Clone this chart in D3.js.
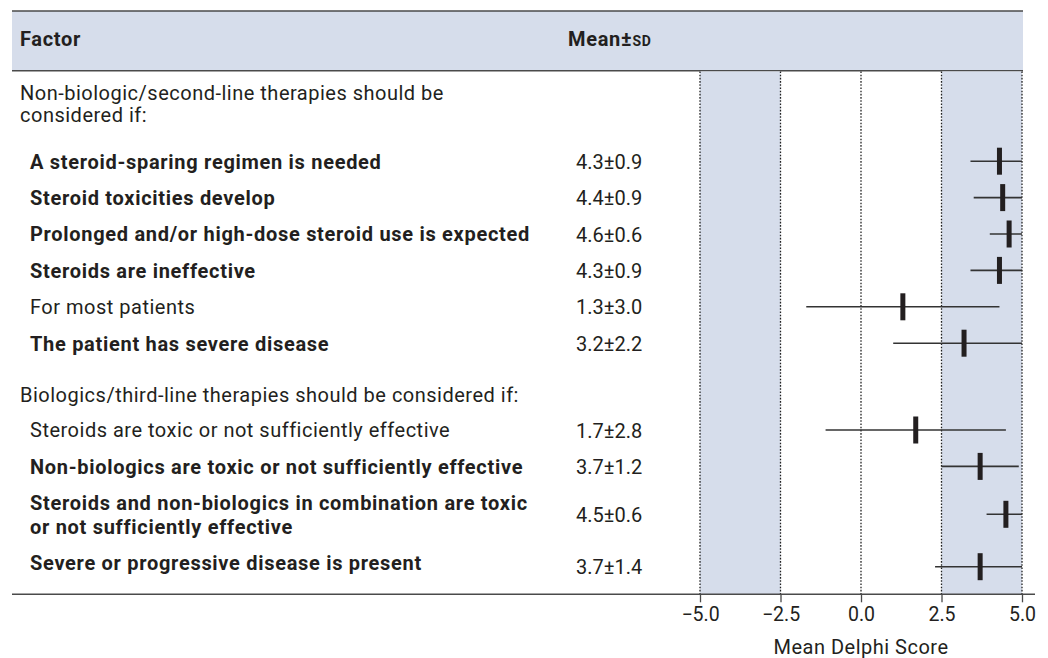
<!DOCTYPE html>
<html>
<head>
<meta charset="utf-8">
<script src="https://cdn.jsdelivr.net/npm/d3@7"></script>
<style>
  html, body { margin: 0; padding: 0; background: #fff; }
  svg { display: block; }
  text { font-family: Roboto, "DejaVu Sans", sans-serif; fill: #231f20; letter-spacing: 0.5px; }
  text.bold { letter-spacing: 0.7px; }
  text.num, .tick text { letter-spacing: 0; }
</style>
</head>
<body>
<svg id="chart" width="1048" height="658"></svg>
<script>
// ---- data ----
const groupLabels = [
  "Non-biologic/second-line therapies should be\nconsidered if:",
  "Biologics/third-line therapies should be considered if:"
];
const factorLabels = [
  "A steroid-sparing regimen is needed",
  "Steroid toxicities develop",
  "Prolonged and/or high-dose steroid use is expected",
  "Steroids are ineffective",
  "For most patients",
  "The patient has severe disease",
  "Steroids are toxic or not sufficiently effective",
  "Non-biologics are toxic or not sufficiently effective",
  "Steroids and non-biologics in combination are toxic\nor not sufficiently effective",
  "Severe or progressive disease is present"
];
const factorGroups = [0, 0, 0, 0, 0, 0, 1, 1, 1, 1];
const means = [4.3, 4.4, 4.6, 4.3, 1.3, 3.2, 1.7, 3.7, 4.5, 3.7];
const sds   = [0.9, 0.9, 0.6, 0.9, 3.0, 2.2, 2.8, 1.2, 0.6, 1.4];
const scoreDomain = [-5, 5];
const tickValues = [-5, -2.5, 0, 2.5, 5];
const agreementBands = [[-5, -2.5], [2.5, 5]];
const consensusCut = 2.5;   // items at or above this mean are set in bold
const axisTitle = "Mean Delphi Score";

// ---- layout ----
const svg = d3.select("#chart");
const ink = "#231f20", rule = "#4a4a4a", tint = "#d6ddeb";
const fs = 20;
const tableLeft = 12, tableRight = 1023, axisRight = 1035;
const headTop = 11, headBottom = 70.7;
const groupX = 20, itemX = 30, valueX = 576;
const rowH = 36.4, extraLineH = 23, textLineGap = 24, textBase = 25.5;
const groupLineGap = 22;
const groupBase = [29.3, 40.3], groupPadBottom = [21, 10.1];
const lastRowExtra = 9;

const x = d3.scaleLinear().domain(scoreDomain).range([700, 1022]);

// stack groups and factor rows from the top of the table down
const blocks = [];
let cursor = headBottom;
groupLabels.forEach((g, gi) => {
  const lines = g.split("\n");
  const first = cursor + groupBase[gi];
  blocks.push({ kind: "group", lines, bases: lines.map((_, k) => first + k * groupLineGap) });
  cursor = first + (lines.length - 1) * groupLineGap + groupPadBottom[gi];
  factorLabels.forEach((f, i) => {
    if (factorGroups[i] !== gi) return;
    const lines = f.split("\n");
    const isLast = i === factorLabels.length - 1;
    const h = rowH + (lines.length - 1) * extraLineH + (isLast ? lastRowExtra : 0);
    blocks.push({
      kind: "item", i, lines,
      bases: lines.map((_, k) => cursor + textBase + k * textLineGap),
      mid: cursor + h / 2
    });
    cursor += h;
  });
});
const axisY = 594.3;

// header band
svg.append("rect").attr("x", tableLeft).attr("y", headTop)
  .attr("width", tableRight - tableLeft).attr("height", headBottom - headTop)
  .attr("fill", tint);
[headTop, headBottom].forEach(yy => {
  svg.append("line").attr("x1", tableLeft).attr("x2", tableRight)
    .attr("y1", yy).attr("y2", yy).attr("stroke", rule).attr("stroke-width", 1.5);
});
const headBase = 46;
svg.append("text").attr("class", "bold").attr("x", groupX).attr("y", headBase)
  .attr("font-size", fs).attr("font-weight", 700).text("Factor");
const ms = svg.append("text").attr("class", "bold").attr("x", 568).attr("y", headBase)
  .attr("font-size", fs).attr("font-weight", 700);
ms.append("tspan").text("Mean±");
ms.append("tspan").attr("font-size", 14).text("SD");

// shaded agreement zones and dotted reference lines
svg.selectAll("rect.band").data(agreementBands).join("rect")
  .attr("class", "band")
  .attr("x", d => x(d[0])).attr("width", d => x(d[1]) - x(d[0]))
  .attr("y", headBottom + 0.75).attr("height", axisY - headBottom - 0.75)
  .attr("fill", tint);
svg.selectAll("line.ref").data(tickValues).join("line")
  .attr("class", "ref")
  .attr("x1", d => x(d)).attr("x2", d => x(d))
  .attr("y1", headBottom + 0.75).attr("y2", axisY)
  .attr("stroke", "#222").attr("stroke-width", 1.3).attr("stroke-dasharray", "1.6,1.6");

// text column
blocks.forEach(b => {
  if (b.kind === "group") {
    b.lines.forEach((ln, k) => {
      svg.append("text").attr("x", groupX).attr("y", b.bases[k])
        .attr("font-size", fs).text(ln);
    });
  } else {
    const bold = means[b.i] >= consensusCut;
    b.lines.forEach((ln, k) => {
      svg.append("text").attr("class", bold ? "bold" : null)
        .attr("x", itemX).attr("y", b.bases[k])
        .attr("font-size", fs).attr("font-weight", bold ? 700 : 400).text(ln);
    });
    svg.append("text").attr("class", "num").attr("x", valueX).attr("y", b.mid + 7.5)
      .attr("font-size", fs)
      .text(d3.format(".1f")(means[b.i]) + "±" + d3.format(".1f")(sds[b.i]));
  }
});

// mean ± SD marks, whiskers clipped to the score range
const items = blocks.filter(b => b.kind === "item");
const clamp = v => Math.max(scoreDomain[0], Math.min(scoreDomain[1], v));
svg.selectAll("line.sd").data(items).join("line")
  .attr("class", "sd")
  .attr("x1", d => x(clamp(means[d.i] - sds[d.i])))
  .attr("x2", d => x(clamp(means[d.i] + sds[d.i])))
  .attr("y1", d => d.mid).attr("y2", d => d.mid)
  .attr("stroke", "#333").attr("stroke-width", 1.6);
svg.selectAll("rect.mean").data(items).join("rect")
  .attr("class", "mean")
  .attr("x", d => x(means[d.i]) - 2.5).attr("width", 5)
  .attr("y", d => d.mid - 13.5).attr("height", 27)
  .attr("fill", ink);

// axis
svg.append("line").attr("x1", tableLeft).attr("x2", axisRight)
  .attr("y1", axisY).attr("y2", axisY).attr("stroke", rule).attr("stroke-width", 1.5);
const axis = svg.append("g").attr("transform", `translate(0,${axisY})`)
  .call(d3.axisBottom(x).tickValues(tickValues).tickSize(8).tickPadding(4.5)
    .tickFormat(d3.format(".1f")));
axis.select(".domain").remove();
axis.selectAll(".tick line").attr("stroke", rule).attr("stroke-width", 1.3);
axis.selectAll(".tick text").attr("font-size", 19.5).attr("font-family", null).attr("fill", ink);
svg.append("text").attr("x", x(0)).attr("y", 654).attr("text-anchor", "middle")
  .attr("font-size", fs).text(axisTitle);
</script>
</body>
</html>
